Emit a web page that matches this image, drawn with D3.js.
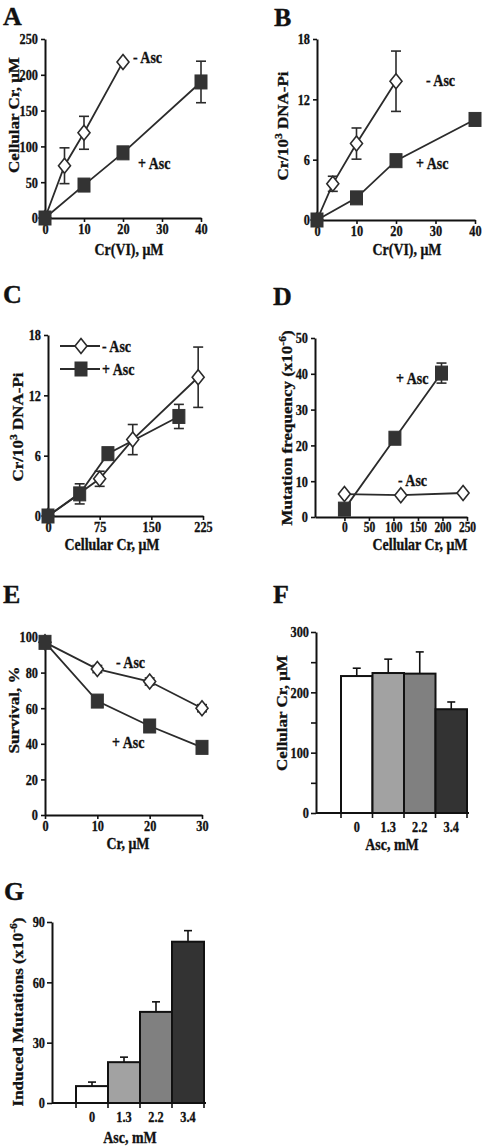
<!DOCTYPE html>
<html><head><meta charset="utf-8">
<script src="https://cdn.jsdelivr.net/npm/d3@7"></script>
<style>
body{margin:0;background:#fff}
svg{display:block}
text{font-family:"Liberation Serif","Times New Roman",serif;font-weight:bold;fill:#111;stroke:#111;stroke-width:0.35px}
</style>
</head><body>
<svg id="c" width="483" height="1146"></svg>
<script>
// ---------- DATA ----------
// Panel A
const aMinusX=[0,5,10,20], aMinusY=[0,73,119,218], aMinusErr=[0,25,23,0];
const aPlusX=[0,10,20,40], aPlusY=[0,46,91,190], aPlusErr=[0,0,0,29];
const aXTicks=[0,10,20,30,40], aYTicks=[0,50,100,150,200,250];
// Panel B
const bMinusX=[0,4,10,20], bMinusY=[0,3.6,7.6,13.8], bMinusErr=[0,0.75,1.55,3];
const bPlusX=[0,10,20,40], bPlusY=[0,2.2,5.9,10.0], bPlusErr=[0,0,0,0];
const bXTicks=[0,10,20,30,40], bYTicks=[0,6,12,18];
// Panel C
const cMinusX=[0,75,123,218], cMinusY=[0,3.7,7.6,13.8], cMinusErr=[0,0.75,1.5,3];
const cPlusX=[0,46,87,190], cPlusY=[0,2.2,6.2,9.9], cPlusErr=[0,1,0,1.2];
const cXTicks=[0,75,150,225], cYTicks=[0,6,12,18];
// Panel D
const dPlusX=[0,103,198], dPlusY=[2.2,22,40.2], dPlusErr=[0,0,2.8];
const dMinusX=[0,115,242], dMinusY=[6.4,6.1,6.7], dMinusErr=[0,0,0];
const dXTicks=[0,50,100,150,200,250], dYTicks=[0,10,20,30,40,50];
// Panel E
const eX=[0,10,20,30];
const eMinusY=[97,82,75,60], eMinusErr=[2,2,2,2];
const ePlusY=[97,64,50,38], ePlusErr=[2,0,0,2];
const eXTicks=[0,10,20,30], eYTicks=[0,20,40,60,80,100];
// Panel F
const ascLabels=["0","1.3","2.2","3.4"];
const fValues=[227,232,231,172], fErr=[13,23,36,12];
const fYTicks=[0,50,100,150,200,250,300], fYLabels=[0,100,200,300];
// Panel G
const gValues=[8.4,20.3,45.3,80.2], gErr=[2,2.5,5,5.5];
const gYTicks=[0,30,60,90];
const barColors=["#ffffff","#a2a2a2","#808080","#333333"];

// ---------- DRAWING ----------
const svg=d3.select('#c');
const SX=0.82;
const INK='#111', LINE='#2b2b2b', FILL='#333';

function txt(x,y,parts,size,anchor,rot){
  const t=svg.append('text')
    .attr('transform',rot?`translate(${x},${y}) rotate(-90) scale(1,${SX})`:`translate(${x},${y}) scale(${SX},1)`)
    .attr('text-anchor',anchor||'start')
    .style('font-size',size+'px');
  if(typeof parts==='string'){t.text(parts);return t;}
  let shift=0;
  parts.forEach(p=>{
    const ts=t.append('tspan').text(p.t);
    if(p.sup){ts.attr('dy',-size*0.4-shift).style('font-size',(size*0.68)+'px');shift=-size*0.4;}
    else if(shift!==0){ts.attr('dy',-shift);shift=0;}
  });
  return t;
}
function styleAxis(g,left,fs){
  g.select('.domain').attr('stroke',INK).attr('stroke-width',2);
  g.selectAll('.tick line').attr('stroke',INK).attr('stroke-width',1.6);
  g.selectAll('.tick text').style('font-size',(fs||15)+'px').attr('fill',INK)
   .attr('transform',`scale(${SX},1)`);
  if(left) g.selectAll('.tick text').attr('x',-7/SX);
}
function letter(x,y,s){
  svg.append('text').attr('x',x).attr('y',y).style('font-size','26px').text(s);
}
function marker(g,x,y,type){
  if(type==='sq'){
    g.append('rect').attr('x',x-6).attr('y',y-7).attr('width',12).attr('height',14)
     .attr('fill',FILL).attr('stroke',FILL).attr('stroke-width',1);
  } else {
    g.append('path').attr('d',`M${x},${y-7.5}L${x+6},${y}L${x},${y+7.5}L${x-6},${y}Z`)
     .attr('fill','#fff').attr('stroke',LINE).attr('stroke-width',1.6);
  }
}
function linePanel(c){
  const x=d3.scaleLinear().domain(c.xd).range(c.xr);
  const y=d3.scaleLinear().domain(c.yd).range(c.yr);
  const gx=svg.append('g').attr('transform',`translate(0,${c.yr[0]})`)
    .call(d3.axisBottom(x).tickValues(c.xt).tickSize(4).tickPadding(1).tickSizeOuter(0).tickFormat(d3.format('d')));
  styleAxis(gx,false,c.xfs);
  const gy=svg.append('g').attr('transform',`translate(${c.xr[0]},0)`)
    .call(d3.axisLeft(y).tickValues(c.yt).tickSize(4).tickSizeOuter(0).tickFormat(d3.format('d')));
  styleAxis(gy,true);
  const g=svg.append('g');
  c.series.forEach(s=>{
    s.x.forEach((xv,i)=>{
      const e=s.err[i]; if(!e) return;
      const X=x(xv), y1=y(s.y[i]-e), y2=y(s.y[i]+e);
      g.append('line').attr('x1',X).attr('x2',X).attr('y1',y1).attr('y2',y2).attr('stroke',LINE).attr('stroke-width',1.6);
      [y1,y2].forEach(yy=>g.append('line').attr('x1',X-5).attr('x2',X+5).attr('y1',yy).attr('y2',yy).attr('stroke',LINE).attr('stroke-width',1.6));
    });
  });
  c.series.forEach(s=>{
    const pts=s.x.map((xv,i)=>[x(xv),y(s.y[i])]);
    g.append('path').attr('d',d3.line()(pts)).attr('fill','none').attr('stroke',LINE).attr('stroke-width',1.8);
  });
  c.series.forEach(s=>{
    s.x.forEach((xv,i)=>marker(g,x(xv),y(s.y[i]),s.m));
  });
  return {x,y};
}
function barPanel(c){
  const y=d3.scaleLinear().domain(c.yd).range(c.yr);
  const xb=d3.scaleBand().domain(ascLabels).range(c.br).paddingInner(0).paddingOuter(0);
  const bw=xb.bandwidth();
  const gy=svg.append('g').attr('transform',`translate(${c.ax},0)`)
    .call(d3.axisLeft(y).tickValues(c.yt).tickSize(5).tickSizeOuter(0)
      .tickFormat(d=>c.yl.includes(d)?d:''));
  styleAxis(gy,true);
  const g=svg.append('g');
  ascLabels.forEach((lab,i)=>{
    const v=c.v[i];
    g.append('rect').attr('x',xb(lab)).attr('y',y(v)).attr('width',bw).attr('height',y(0)-y(v))
     .attr('fill',barColors[i]).attr('stroke',INK).attr('stroke-width',2);
    const cx=xb(lab)+bw/2, ye=y(v+c.e[i]);
    g.append('line').attr('x1',cx).attr('x2',cx).attr('y1',y(v)).attr('y2',ye).attr('stroke',INK).attr('stroke-width',1.6);
    g.append('line').attr('x1',cx-4).attr('x2',cx+4).attr('y1',ye).attr('y2',ye).attr('stroke',INK).attr('stroke-width',1.6);
  });
  const gx=svg.append('g').attr('transform',`translate(0,${c.yr[0]})`)
    .call(d3.axisBottom(xb).tickSize(0).tickPadding(8));
  styleAxis(gx,false);
  gx.select('.domain').remove();
  svg.append('line').attr('x1',c.ax).attr('x2',c.br[1]+2).attr('y1',c.yr[0]).attr('y2',c.yr[0]).attr('stroke',INK).attr('stroke-width',2);
  const edges=ascLabels.map(l=>xb(l)).concat([xb(ascLabels[3])+bw]);
  edges.forEach(ex=>svg.append('line').attr('x1',ex).attr('x2',ex).attr('y1',c.yr[0]).attr('y2',c.yr[0]+5).attr('stroke',INK).attr('stroke-width',1.6));
}

// ---- Panel A ----
letter(3,25,'A');
linePanel({xd:[0,40],xr:[45,201],yd:[0,250],yr:[218,39],xt:aXTicks,yt:aYTicks,
  series:[{x:aMinusX,y:aMinusY,err:aMinusErr,m:'di'},{x:aPlusX,y:aPlusY,err:aPlusErr,m:'sq'}]});
txt(14,115,'Cellular Cr, μM',17,'middle',true).attr('dy','0.35em');
txt(129,255,'Cr(VI), μM',17,'middle');
txt(133,63,'- Asc',17);
txt(138,169,'+ Asc',17);

// ---- Panel B ----
letter(274,26,'B');
linePanel({xd:[0,40],xr:[317,475],yd:[0,18],yr:[220,39],xt:bXTicks,yt:bYTicks,
  series:[{x:bMinusX,y:bMinusY,err:bMinusErr,m:'di'},{x:bPlusX,y:bPlusY,err:bPlusErr,m:'sq'}]});
txt(283,126,[{t:'Cr/10'},{t:'3',sup:true},{t:' DNA-Pi'}],17,'middle',true).attr('dy','0.35em');
txt(407,255,'Cr(VI), μM',17,'middle');
txt(426,86,'- Asc',17);
txt(416,169,'+ Asc',17);

// ---- Panel C ----
letter(3,303,'C');
linePanel({xd:[0,225],xr:[48,203],yd:[0,18],yr:[516,335],xt:cXTicks,yt:cYTicks,
  series:[{x:cMinusX,y:cMinusY,err:cMinusErr,m:'di'},{x:cPlusX,y:cPlusY,err:cPlusErr,m:'sq'}]});
txt(18,427,[{t:'Cr/10'},{t:'3',sup:true},{t:' DNA-Pi'}],17,'middle',true).attr('dy','0.35em');
txt(112,550,'Cellular Cr, μM',17,'middle');
[[346,'di','- Asc'],[369,'sq','+ Asc']].forEach(([ly,m,lab])=>{
  svg.append('line').attr('x1',60).attr('x2',100).attr('y1',ly).attr('y2',ly).attr('stroke',LINE).attr('stroke-width',1.8);
  marker(svg,81,ly,m);
  txt(102,ly+6,lab,17);
});

// ---- Panel D ----
letter(273,305,'D');
linePanel({xd:[-60,250],xr:[315,467],yd:[0,50],yr:[517,338],xt:dXTicks,yt:dYTicks,xfs:14,
  series:[{x:dMinusX,y:dMinusY,err:dMinusErr,m:'di'},{x:dPlusX,y:dPlusY,err:dPlusErr,m:'sq'}]});
txt(287,428,[{t:'Mutation frequency  (x10'},{t:'-6',sup:true},{t:')'}],17,'middle',true).attr('dy','0.35em');
txt(420,550,'Cellular Cr, μM',17,'middle');
txt(396,384,'+ Asc',17);
txt(398,486,'- Asc',17);

// ---- Panel E ----
letter(3,603,'E');
linePanel({xd:[0,30],xr:[45,202],yd:[0,100],yr:[815,637],xt:eXTicks,yt:eYTicks,
  series:[{x:eX,y:eMinusY,err:eMinusErr,m:'di'},{x:eX,y:ePlusY,err:ePlusErr,m:'sq'}]});
txt(14,710,'Survival, %',17,'middle',true).attr('dy','0.35em');
txt(128,849,'Cr, μM',17,'middle');
txt(116,668,'- Asc',17);
txt(112,748,'+ Asc',17);

// ---- Panel F ----
letter(273,603,'F');
barPanel({ax:316,br:[341,467],yd:[0,300],yr:[813,632],yt:fYTicks,yl:fYLabels,v:fValues,e:fErr});
txt(282,713,'Cellular Cr, μM',17,'middle',true).attr('dy','0.35em');
txt(392,850,'Asc, mM',17,'middle');

// ---- Panel G ----
letter(4,900,'G');
barPanel({ax:52,br:[76,204],yd:[0,90],yr:[1103,922],yt:gYTicks,yl:gYTicks,v:gValues,e:gErr});
txt(18,1012,[{t:'Induced Mutations  (x10'},{t:'-6',sup:true},{t:')'}],17,'middle',true).attr('dy','0.35em');
txt(130,1143,'Asc, mM',17,'middle');
</script>
</body></html>
